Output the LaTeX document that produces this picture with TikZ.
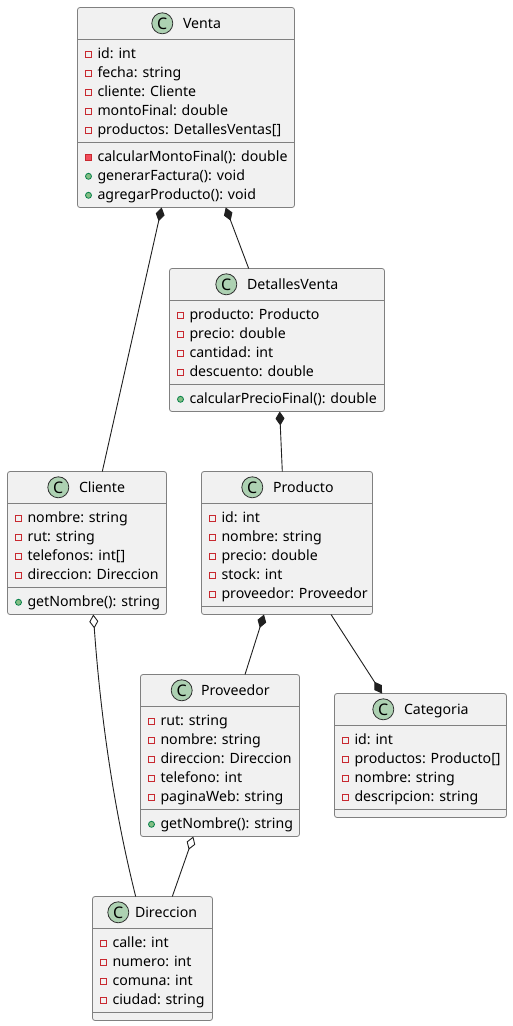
\documentclass[tikz,border=0pt]{standalone}
\usepackage{fontspec}
\setmainfont{Noto Sans}
\usetikzlibrary{arrows.meta,calc}
\definecolor{boxfill}{HTML}{F1F1F1}
\definecolor{boxline}{HTML}{808080}
\definecolor{connline}{HTML}{202020}
\definecolor{spot}{HTML}{ADD1B2}
\definecolor{spotline}{HTML}{303030}
\definecolor{privline}{HTML}{C82930}
\definecolor{privfill}{HTML}{F24D5C}
\definecolor{publine}{HTML}{038048}
\definecolor{pubfill}{HTML}{84BE84}
\tikzset{
  x=1pt,y=-1pt,
  umlbox/.style={draw=boxline,fill=boxfill,line width=.8pt,rounded corners=2.5pt,anchor=north west,inner sep=0pt,outer sep=0pt},
  sepline/.style={draw=boxline,line width=.8pt},
  rowtext/.style={anchor=base west,inner sep=0pt,outer sep=0pt,font=\fontsize{14.15}{16}\selectfont,text=black},
  titletext/.style={rowtext},
  spotc/.style={circle,draw=spotline,fill=spot,line width=.8pt,minimum size=21pt,inner sep=0pt,font=\fontsize{16}{16}\selectfont\bfseries},
  ico/.style={inner sep=0pt,outer sep=0pt,minimum size=6pt},
  icon p/.style={ico,draw=privline,fill=boxfill,line width=1pt,rectangle},
  icon m/.style={ico,draw=privline,fill=privfill,line width=1pt,rectangle},
  icon o/.style={ico,draw=publine,fill=pubfill,line width=.8pt,circle},
  conn/.style={draw=connline,line width=.9pt},
  comp/.style={conn,{Diamond[length=14pt,width=9pt,fill=connline]}-},
  compend/.style={conn,-{Diamond[length=14pt,width=9pt,fill=connline]}},
  aggr/.style={conn,{Diamond[open,length=14pt,width=9pt,fill=white]}-},
}
% name, x0, y0, x1, y1, sep1, sep2, spot x
\newcommand{\umlclass}[8]{%
  \node[umlbox,minimum width={#4-#2},minimum height={#5-#3}] (#1) at (#2,#3) {};
  \draw[sepline] ([yshift={-(#6-#3)*1pt}]#1.north west) -- ([yshift={-(#6-#3)*1pt}]#1.north east);
  \draw[sepline] ([yshift={-(#7-#3)*1pt}]#1.north west) -- ([yshift={-(#7-#3)*1pt}]#1.north east);
  \node[spotc] (#1-spot) at (#8,#3+15.8) {C};
}
% name, x, y, title
\newcommand{\umltitle}[4]{\node[titletext] (#1-title) at (#2,#3+21) {#4};}
% prefix, x0, first baseline, list of kind/text
\newcommand{\umlrows}[4]{%
  \foreach \kd/\tx [count=\ii] in {#4} {
    \node[icon \kd] (#1-\ii-i) at (#2+11,#3+19*\ii-19-4) {};
    \node[rowtext] (#1-\ii) at (#2+20,#3+19*\ii-19) {\tx};
  }
}
\begin{document}
\begin{tikzpicture}
\useasboundingbox (0,0) rectangle (512,1026);
\fill[white] (0,0) rectangle (512,1026);

\umlclass{venta}{77.5}{7.5}{294.5}{207.5}{39.5}{142.5}{162.3}
\umltitle{venta}{183}{7.5}{Venta}
\umlrows{ventaa}{77.5}{58.3}{p/{id: int},p/{fecha: string},p/{cliente: Cliente},p/{montoFinal: double},p/{productos: DetallesVentas[]}}
\umlrows{ventam}{77.5}{161.3}{m/{calcularMontoFinal(): double},o/{generarFactura(): void},o/{agregarProducto(): void}}

\umlclass{detalles}{169.5}{268.5}{384.5}{411.5}{300.5}{384.5}{226.3}
\umltitle{detalles}{247}{268.5}{DetallesVenta}
\umlrows{detallesa}{169.5}{319.3}{p/{producto: Producto},p/{precio: double},p/{cantidad: int},p/{descuento: double}}
\umlrows{detallesm}{169.5}{403.3}{o/{calcularPrecioFinal(): double}}

\umlclass{cliente}{7.5}{471.5}{166.5}{614.5}{503.5}{587.5}{58.3}
\umltitle{cliente}{79}{471.5}{Cliente}
\umlrows{clientea}{7.5}{522.3}{p/{nombre: string},p/{rut: string},p/{telefonos: int[]},p/{direccion: Direccion}}
\umlrows{clientem}{7.5}{606.3}{o/{getNombre(): string}}

\umlclass{producto}{201.5}{471.5}{372.5}{614.5}{503.5}{606.5}{252.3}
\umltitle{producto}{273}{471.5}{Producto}
\umlrows{productoa}{201.5}{522.3}{p/{id: int},p/{nombre: string},p/{precio: double},p/{stock: int},p/{proveedor: Proveedor}}

\umlclass{proveedor}{140.5}{674.5}{299.5}{836.5}{706.5}{809.5}{181.7}
\umltitle{proveedor}{201}{674.5}{Proveedor}
\umlrows{proveedora}{140.5}{725.3}{p/{rut: string},p/{nombre: string},p/{direccion: Direccion},p/{telefono: int},p/{paginaWeb: string}}
\umlrows{proveedorm}{140.5}{828.3}{o/{getNombre(): string}}

\umlclass{categoria}{334.5}{693.5}{506.5}{817.5}{725.5}{809.5}{383.3}
\umltitle{categoria}{404}{693.5}{Categoria}
\umlrows{categoriaa}{334.5}{744.3}{p/{id: int},p/{productos: Producto[]},p/{nombre: string},p/{descripcion: string}}

\umlclass{direccion}{92.5}{896.5}{212.5}{1020.5}{928.5}{1012.5}{118.3}
\umltitle{direccion}{135}{896.5}{Direccion}
\umlrows{direcciona}{92.5}{947.3}{p/{calle: int},p/{numero: int},p/{comuna: int},p/{ciudad: string}}

\draw[comp] ([xshift=84.2pt]venta.south west) -- ([xshift=94.8pt]cliente.north west);
\draw[comp] ([xshift=148.2pt]venta.south west) -- ([xshift=79.2pt]detalles.north west);
\draw[comp] ([xshift=110.2pt]detalles.south west) -- ([xshift=80.8pt]producto.north west);
\draw[comp] ([xshift=62.5pt]producto.south west) -- ([xshift=104.5pt]proveedor.north west);
\draw[compend] ([xshift=129.5pt]producto.south west) -- ([xshift=47.5pt]categoria.north west);
\draw[aggr] ([xshift=85.8pt]cliente.south west) .. controls (100,708) and (112,802) .. ([xshift=43.2pt]direccion.north west);
\draw[aggr] ([xshift=52.8pt]proveedor.south west) -- ([xshift=79.8pt]direccion.north west);
\end{tikzpicture}
\end{document}
